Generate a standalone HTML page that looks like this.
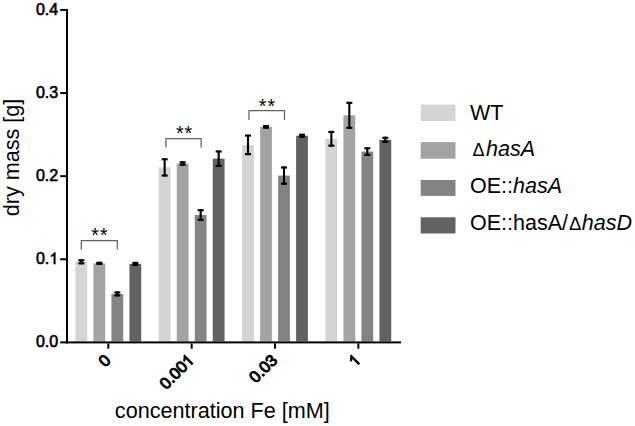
<!DOCTYPE html>
<html><head><meta charset="utf-8"><style>
html,body{margin:0;padding:0;background:#fff;}
svg{display:block;}
text{font-family:"Liberation Sans",sans-serif;}
.tk{font-size:16.2px;stroke:#000;stroke-width:0.6px;}
.st{font-size:19.5px;letter-spacing:1px;}
.lg{font-size:21.5px;}
</style></head><body>
<svg width="635" height="426" viewBox="0 0 635 426">
<rect width="635" height="426" fill="#fff"/>

<rect x="75.43" y="261.80" width="11.8" height="79.60" fill="#d4d4d4"/>
<rect x="93.43" y="263.35" width="11.8" height="78.05" fill="#a3a3a3"/>
<rect x="111.43" y="293.90" width="11.8" height="47.50" fill="#838383"/>
<rect x="129.43" y="263.90" width="11.8" height="77.50" fill="#626262"/>
<rect x="158.76" y="167.40" width="11.8" height="174.00" fill="#d4d4d4"/>
<rect x="176.76" y="163.50" width="11.8" height="177.90" fill="#a3a3a3"/>
<rect x="194.76" y="215.00" width="11.8" height="126.40" fill="#838383"/>
<rect x="212.76" y="158.65" width="11.8" height="182.75" fill="#626262"/>
<rect x="242.10" y="144.85" width="11.8" height="196.55" fill="#d4d4d4"/>
<rect x="260.10" y="126.90" width="11.8" height="214.50" fill="#a3a3a3"/>
<rect x="278.10" y="175.60" width="11.8" height="165.80" fill="#838383"/>
<rect x="296.10" y="135.75" width="11.8" height="205.65" fill="#626262"/>
<rect x="325.43" y="138.80" width="11.8" height="202.60" fill="#d4d4d4"/>
<rect x="343.43" y="115.30" width="11.8" height="226.10" fill="#a3a3a3"/>
<rect x="361.43" y="151.60" width="11.8" height="189.80" fill="#838383"/>
<rect x="379.43" y="139.80" width="11.8" height="201.60" fill="#626262"/>
<rect x="80.28" y="259.25" width="2.1" height="5.10" fill="#000"/>
<rect x="78.33" y="259.25" width="6.0" height="2.1" fill="#000"/>
<rect x="78.33" y="262.25" width="6.0" height="2.1" fill="#000"/>
<rect x="98.28" y="261.75" width="2.1" height="3.20" fill="#000"/>
<rect x="96.33" y="261.75" width="6.0" height="2.1" fill="#000"/>
<rect x="96.33" y="262.85" width="6.0" height="2.1" fill="#000"/>
<rect x="116.28" y="291.40" width="2.1" height="5.00" fill="#000"/>
<rect x="114.33" y="291.40" width="6.0" height="2.1" fill="#000"/>
<rect x="114.33" y="294.30" width="6.0" height="2.1" fill="#000"/>
<rect x="134.28" y="261.85" width="2.1" height="4.10" fill="#000"/>
<rect x="132.33" y="261.85" width="6.0" height="2.1" fill="#000"/>
<rect x="132.33" y="263.85" width="6.0" height="2.1" fill="#000"/>
<rect x="163.61" y="158.25" width="2.1" height="18.30" fill="#000"/>
<rect x="161.66" y="158.25" width="6.0" height="2.1" fill="#000"/>
<rect x="161.66" y="174.45" width="6.0" height="2.1" fill="#000"/>
<rect x="181.61" y="161.25" width="2.1" height="4.50" fill="#000"/>
<rect x="179.66" y="161.25" width="6.0" height="2.1" fill="#000"/>
<rect x="179.66" y="163.65" width="6.0" height="2.1" fill="#000"/>
<rect x="199.61" y="209.15" width="2.1" height="11.70" fill="#000"/>
<rect x="197.66" y="209.15" width="6.0" height="2.1" fill="#000"/>
<rect x="197.66" y="218.75" width="6.0" height="2.1" fill="#000"/>
<rect x="217.61" y="150.45" width="2.1" height="16.40" fill="#000"/>
<rect x="215.66" y="150.45" width="6.0" height="2.1" fill="#000"/>
<rect x="215.66" y="164.75" width="6.0" height="2.1" fill="#000"/>
<rect x="246.95" y="134.55" width="2.1" height="20.60" fill="#000"/>
<rect x="245.00" y="134.55" width="6.0" height="2.1" fill="#000"/>
<rect x="245.00" y="153.05" width="6.0" height="2.1" fill="#000"/>
<rect x="264.95" y="125.05" width="2.1" height="3.70" fill="#000"/>
<rect x="263.00" y="125.05" width="6.0" height="2.1" fill="#000"/>
<rect x="263.00" y="126.65" width="6.0" height="2.1" fill="#000"/>
<rect x="282.95" y="166.45" width="2.1" height="18.30" fill="#000"/>
<rect x="281.00" y="166.45" width="6.0" height="2.1" fill="#000"/>
<rect x="281.00" y="182.65" width="6.0" height="2.1" fill="#000"/>
<rect x="300.95" y="133.75" width="2.1" height="4.00" fill="#000"/>
<rect x="299.00" y="133.75" width="6.0" height="2.1" fill="#000"/>
<rect x="299.00" y="135.65" width="6.0" height="2.1" fill="#000"/>
<rect x="330.28" y="130.90" width="2.1" height="15.80" fill="#000"/>
<rect x="328.33" y="130.90" width="6.0" height="2.1" fill="#000"/>
<rect x="328.33" y="144.60" width="6.0" height="2.1" fill="#000"/>
<rect x="348.28" y="101.80" width="2.1" height="27.00" fill="#000"/>
<rect x="346.33" y="101.80" width="6.0" height="2.1" fill="#000"/>
<rect x="346.33" y="126.70" width="6.0" height="2.1" fill="#000"/>
<rect x="366.28" y="147.25" width="2.1" height="8.70" fill="#000"/>
<rect x="364.33" y="147.25" width="6.0" height="2.1" fill="#000"/>
<rect x="364.33" y="153.85" width="6.0" height="2.1" fill="#000"/>
<rect x="384.28" y="136.75" width="2.1" height="6.10" fill="#000"/>
<rect x="382.33" y="136.75" width="6.0" height="2.1" fill="#000"/>
<rect x="382.33" y="140.75" width="6.0" height="2.1" fill="#000"/>
<rect x="66" y="9" width="2" height="334.4" fill="#000"/>
<rect x="66" y="341.4" width="335" height="2" fill="#000"/>
<rect x="60.2" y="8.95" width="6" height="2" fill="#000"/>
<g transform="translate(58.2 14.75)"><text x="-22.24" y="0" class="tk" style="font-size:16.0px;stroke-width:0.6px">0</text><text x="-13.34" y="0" class="tk" style="font-size:16.0px;stroke-width:0.6px">.</text><text x="-8.90" y="0" class="tk" style="font-size:16.0px;stroke-width:0.6px">4</text></g>
<rect x="60.2" y="92.06" width="6" height="2" fill="#000"/>
<g transform="translate(58.2 97.86)"><text x="-22.24" y="0" class="tk" style="font-size:16.0px;stroke-width:0.6px">0</text><text x="-13.34" y="0" class="tk" style="font-size:16.0px;stroke-width:0.6px">.</text><text x="-8.90" y="0" class="tk" style="font-size:16.0px;stroke-width:0.6px">3</text></g>
<rect x="60.2" y="175.17" width="6" height="2" fill="#000"/>
<g transform="translate(58.2 180.97)"><text x="-22.24" y="0" class="tk" style="font-size:16.0px;stroke-width:0.6px">0</text><text x="-13.34" y="0" class="tk" style="font-size:16.0px;stroke-width:0.6px">.</text><text x="-8.90" y="0" class="tk" style="font-size:16.0px;stroke-width:0.6px">2</text></g>
<rect x="60.2" y="258.28" width="6" height="2" fill="#000"/>
<g transform="translate(58.2 264.08)"><text x="-22.24" y="0" class="tk" style="font-size:16.0px;stroke-width:0.6px">0</text><text x="-13.34" y="0" class="tk" style="font-size:16.0px;stroke-width:0.6px">.</text><path transform="translate(-8.90 0) scale(16.0)" d="M0.3726 0L0.2847 0L0.2847 -0.560Q0.253 -0.530 0.201 -0.4995Q0.149 -0.469 0.108 -0.454L0.108 -0.539Q0.182 -0.574 0.237 -0.623Q0.292 -0.672 0.315 -0.719L0.3726 -0.719Z" fill="#000" stroke="#000" stroke-width="0.0375"/></g>
<rect x="60.2" y="341.39" width="6" height="2" fill="#000"/>
<g transform="translate(58.2 347.19)"><text x="-22.24" y="0" class="tk" style="font-size:16.0px;stroke-width:0.6px">0</text><text x="-13.34" y="0" class="tk" style="font-size:16.0px;stroke-width:0.6px">.</text><text x="-8.90" y="0" class="tk" style="font-size:16.0px;stroke-width:0.6px">0</text></g>
<rect x="107.33" y="343.4" width="2" height="5.3" fill="#000"/>
<g transform="translate(111.63 361.3) rotate(-45)"><text x="-9.06" y="0" class="tk" style="font-size:16.3px;stroke-width:1.0px">0</text></g>
<rect x="190.66" y="343.4" width="2" height="5.3" fill="#000"/>
<g transform="translate(194.96 361.3) rotate(-45)"><text x="-40.78" y="0" class="tk" style="font-size:16.3px;stroke-width:1.0px">0</text><text x="-31.72" y="0" class="tk" style="font-size:16.3px;stroke-width:1.0px">.</text><text x="-27.19" y="0" class="tk" style="font-size:16.3px;stroke-width:1.0px">0</text><text x="-18.13" y="0" class="tk" style="font-size:16.3px;stroke-width:1.0px">0</text><path transform="translate(-9.06 0) scale(16.3)" d="M0.3726 0L0.2847 0L0.2847 -0.560Q0.253 -0.530 0.201 -0.4995Q0.149 -0.469 0.108 -0.454L0.108 -0.539Q0.182 -0.574 0.237 -0.623Q0.292 -0.672 0.315 -0.719L0.3726 -0.719Z" fill="#000" stroke="#000" stroke-width="0.0613"/></g>
<rect x="274.00" y="343.4" width="2" height="5.3" fill="#000"/>
<g transform="translate(278.30 361.3) rotate(-45)"><text x="-31.72" y="0" class="tk" style="font-size:16.3px;stroke-width:1.0px">0</text><text x="-22.66" y="0" class="tk" style="font-size:16.3px;stroke-width:1.0px">.</text><text x="-18.13" y="0" class="tk" style="font-size:16.3px;stroke-width:1.0px">0</text><text x="-9.06" y="0" class="tk" style="font-size:16.3px;stroke-width:1.0px">3</text></g>
<rect x="357.33" y="343.4" width="2" height="5.3" fill="#000"/>
<g transform="translate(361.63 361.3) rotate(-45)"><path transform="translate(-9.06 0) scale(16.3)" d="M0.3726 0L0.2847 0L0.2847 -0.560Q0.253 -0.530 0.201 -0.4995Q0.149 -0.469 0.108 -0.454L0.108 -0.539Q0.182 -0.574 0.237 -0.623Q0.292 -0.672 0.315 -0.719L0.3726 -0.719Z" fill="#000" stroke="#000" stroke-width="0.0613"/></g>
<path d="M81.33 249.6 V240.5 H117.33 V249.6" fill="none" stroke="#626262" stroke-width="1.25"/>
<text x="99.9" y="242.3" class="st" text-anchor="middle">**</text>
<path d="M165.90 147.4 V138.6 H201.10 V147.4" fill="none" stroke="#626262" stroke-width="1.25"/>
<text x="184.5" y="140.0" class="st" text-anchor="middle">**</text>
<path d="M249.00 119.9 V110.7 H284.50 V119.9" fill="none" stroke="#626262" stroke-width="1.25"/>
<text x="267.4" y="112.60000000000001" class="st" text-anchor="middle">**</text>
<text x="222.25" y="418.4" font-size="21.6" text-anchor="middle">concentration Fe [mM]</text>
<text x="0" y="0" font-size="21.6" text-anchor="middle" transform="translate(18.8 157.5) rotate(-90)">dry mass [g]</text>
<rect x="420.7" y="104.5" width="34.8" height="16.50" fill="#d4d4d4"/>
<text x="470" y="120.3" class="lg">WT</text>
<rect x="420.7" y="142.1" width="34.8" height="16.60" fill="#a3a3a3"/>
<text x="470" y="156.3" class="lg"><tspan x="472.6" style="font-size:18px">Δ</tspan><tspan x="486" font-style="italic">hasA</tspan></text>
<rect x="420.7" y="180.0" width="34.8" height="15.90" fill="#838383"/>
<text x="470" y="193.3" class="lg">OE::<tspan font-style="italic">hasA</tspan></text>
<rect x="420.7" y="217.3" width="34.8" height="16.20" fill="#626262"/>
<text x="470" y="230.3" class="lg">OE::hasA/<tspan x="569.1" style="font-size:18.5px">Δ</tspan><tspan x="581.8" font-style="italic">hasD</tspan></text>
</svg></body></html>
